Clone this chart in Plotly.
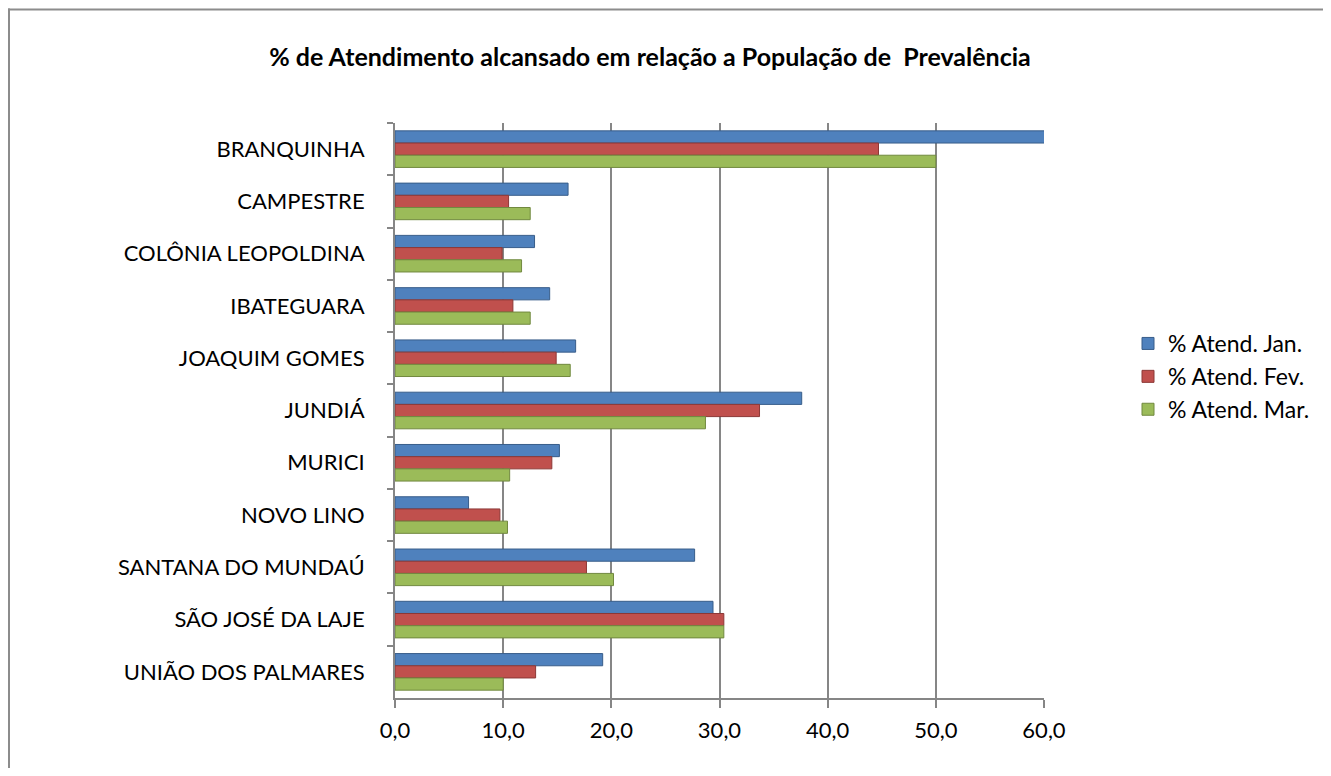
import plotly.graph_objects as go

categories = ["BRANQUINHA", "CAMPESTRE", "COLÔNIA LEOPOLDINA", "IBATEGUARA", "JOAQUIM GOMES",
              "JUNDIÁ", "MURICI", "NOVO LINO", "SANTANA DO MUNDAÚ", "SÃO JOSÉ DA LAJE",
              "UNIÃO DOS PALMARES"]
jan = [60.1, 16.0, 12.9, 14.3, 16.7, 37.6, 15.2, 6.8, 27.7, 29.4, 19.2]
fev = [44.7, 10.5, 9.9, 10.9, 14.9, 33.7, 14.5, 9.7, 17.7, 30.4, 13.0]
mar = [50.0, 12.5, 11.7, 12.5, 16.2, 28.7, 10.6, 10.4, 20.2, 30.4, 10.0]
series_names = ["% Atend. Jan.", "% Atend. Fev.", "% Atend. Mar."]
tick_values = [0, 10, 20, 30, 40, 50, 60]

colors = ["#4F81BD", "#C0504D", "#9BBB59"]
edges = ["#385D8A", "#8C3836", "#71893F"]

FONT = "Lato, Carlito, Liberation Sans, sans-serif"

fig = go.Figure()
for name, vals, c, e in zip(series_names, [jan, fev, mar], colors, edges):
    fig.add_trace(go.Bar(
        y=categories, x=vals, name=name, orientation="h",
        marker=dict(color=c, line=dict(color=e, width=1)),
    ))

# figure is placed by the page at (8, 8); coordinates below are figure coordinates
W, H = 1315, 760
L, R, T, B = 387, 1036, 115, 690
pw, ph = R - L, B - T

def px(x):
    return (x - L) / pw

def py(y):
    return (B - y) / ph

border = dict(color="#8C8C8C", width=2)

fig.update_layout(
    width=W, height=H,
    margin=dict(l=L, r=W - R, t=T, b=H - B, pad=0, autoexpand=False),
    barmode="group", bargap=0.3, bargroupgap=0,
    plot_bgcolor="white", paper_bgcolor="white",
    separators=",.",
    font=dict(family=FONT, size=22, color="#000000"),
    title=dict(text="<b>% de Atendimento alcansado em relação a População de  Prevalência</b>",
               x=642 / W, xref="container", xanchor="center", y=1 - 49 / H, yanchor="middle",
               font=dict(family=FONT, size=25, color="#000000")),
    legend=dict(x=px(1120), y=py(314), xanchor="left", yanchor="top",
                traceorder="normal", font=dict(family=FONT, size=23),
                itemwidth=30, tracegroupgap=0, bgcolor="rgba(0,0,0,0)"),
    showlegend=True,
    shapes=[
        dict(type="line", xref="paper", yref="paper",
             x0=px(0), x1=px(W), y0=py(1.5), y1=py(1.5), line=border, layer="below"),
        dict(type="line", xref="paper", yref="paper",
             x0=px(1), x1=px(1), y0=py(0.5), y1=py(H), line=border, layer="below"),
    ],
)

fig.update_xaxes(range=[0, 60], tickvals=tick_values, tickformat=".1f",
                 showgrid=True, gridcolor="#868686", gridwidth=2,
                 showline=True, linecolor="#868686", linewidth=2,
                 ticks="outside", ticklen=8, tickcolor="#868686", tickwidth=2,
                 ticklabelstandoff=4, zeroline=False,
                 tickfont=dict(family=FONT, size=22))
fig.update_yaxes(autorange="reversed", showgrid=False,
                 showline=True, linecolor="#868686", linewidth=2,
                 ticks="outside", ticklen=6, tickcolor="#868686", tickwidth=2,
                 ticklabelstandoff=24, tickson="boundaries",
                 tickfont=dict(family=FONT, size=22))

fig.write_html("out.html")
